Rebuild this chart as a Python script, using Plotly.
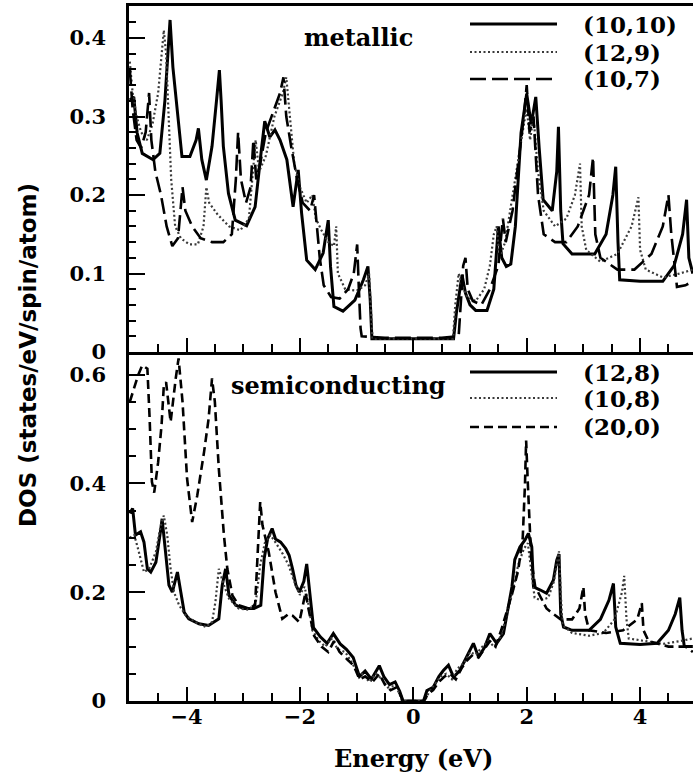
import plotly.graph_objects as go

# ---------------- data: metallic tubes (top panel) ----------------
e_1010 = [-5.00, -4.93, -4.87, -4.78, -4.59, -4.47, -4.38, -4.32, -4.29, -4.24, -4.17, -4.08, -3.94, -3.83,
          -3.79, -3.73, -3.65, -3.55, -3.47, -3.42, -3.39, -3.35, -3.26, -3.14, -2.94, -2.79, -2.68, -2.62,
          -2.53, -2.44, -2.35, -2.23, -2.12, -2.03, -1.97, -1.88, -1.73, -1.59, -1.50, -1.46, -1.40, -1.24,
          -1.03, -0.88, -0.80, -0.76, -0.73, -0.40, 0.00, 0.40, 0.71, 0.76, 0.82, 0.86, 0.92, 1.00, 1.10,
          1.30, 1.42, 1.50, 1.56, 1.64, 1.72, 1.80, 1.90, 2.00, 2.08, 2.16, 2.22, 2.29, 2.45, 2.53, 2.56,
          2.60, 2.64, 2.80, 3.20, 3.40, 3.52, 3.57, 3.61, 3.64, 4.00, 4.40, 4.60, 4.75, 4.82, 4.86, 4.93]
d_1010 = [0.321, 0.325, 0.279, 0.253, 0.245, 0.253, 0.321, 0.397, 0.423, 0.363, 0.312, 0.249, 0.249, 0.270,
          0.285, 0.245, 0.219, 0.262, 0.321, 0.359, 0.321, 0.262, 0.202, 0.168, 0.161, 0.185, 0.257, 0.294,
          0.274, 0.283, 0.270, 0.245, 0.185, 0.232, 0.177, 0.117, 0.105, 0.126, 0.168, 0.109, 0.058, 0.052,
          0.066, 0.092, 0.109, 0.066, 0.017, 0.017, 0.017, 0.017, 0.017, 0.050, 0.080, 0.098, 0.075, 0.060, 0.053,
          0.053, 0.080, 0.160, 0.120, 0.109, 0.112, 0.160, 0.279, 0.329, 0.290, 0.325, 0.260, 0.194, 0.180, 0.230, 0.287,
          0.180, 0.138, 0.125, 0.125, 0.150, 0.200, 0.236, 0.140, 0.092, 0.090, 0.090, 0.110, 0.150, 0.194, 0.120, 0.100]

e_129 = [-5.00, -4.95, -4.88, -4.80, -4.70, -4.60, -4.50, -4.44, -4.40, -4.36, -4.32, -4.27, -4.20, -4.10,
         -3.95, -3.80, -3.70, -3.65, -3.60, -3.45, -3.25, -3.05, -2.90, -2.82, -2.78, -2.72, -2.60, -2.45,
         -2.30, -2.24, -2.18, -2.10, -2.00, -1.88, -1.78, -1.72, -1.62, -1.50, -1.40, -1.36, -1.33, -1.20,
         -1.00, -0.85, -0.78, -0.74, -0.72, -0.30, 0.30, 0.70, 0.74, 0.80, 0.86, 0.95, 1.10, 1.25, 1.35,
         1.42, 1.47, 1.52, 1.62, 1.75, 1.85, 1.95, 2.00, 2.06, 2.12, 2.20, 2.30, 2.50, 2.70, 2.85, 2.94,
         2.97, 3.05, 3.30, 3.60, 3.85, 3.97, 4.00, 4.10, 4.40, 4.70, 4.93]
d_129 = [0.370, 0.330, 0.300, 0.280, 0.270, 0.290, 0.330, 0.380, 0.410, 0.380, 0.300, 0.220, 0.160, 0.145,
         0.137, 0.137, 0.160, 0.210, 0.190, 0.175, 0.160, 0.155, 0.170, 0.240, 0.270, 0.230, 0.250, 0.300,
         0.330, 0.350, 0.300, 0.240, 0.210, 0.190, 0.200, 0.170, 0.155, 0.140, 0.135, 0.160, 0.100, 0.080,
         0.078, 0.085, 0.100, 0.040, 0.017, 0.017, 0.017, 0.017, 0.060, 0.100, 0.085, 0.070, 0.065, 0.080, 0.110,
         0.150, 0.160, 0.120, 0.140, 0.200, 0.250, 0.290, 0.310, 0.270, 0.300, 0.230, 0.180, 0.160, 0.170, 0.200, 0.240,
         0.160, 0.130, 0.115, 0.125, 0.160, 0.197, 0.130, 0.105, 0.095, 0.100, 0.105]

e_107 = [-5.00, -4.95, -4.88, -4.80, -4.72, -4.66, -4.62, -4.55, -4.45, -4.35, -4.25, -4.15, -4.07, -4.02,
         -3.90, -3.75, -3.55, -3.35, -3.20, -3.13, -3.09, -3.04, -2.95, -2.87, -2.82, -2.77, -2.70, -2.60,
         -2.45, -2.35, -2.29, -2.24, -2.15, -2.05, -1.95, -1.82, -1.75, -1.70, -1.65, -1.58, -1.45, -1.30,
         -1.15, -1.05, -0.99, -0.96, -0.93, -0.91, -0.50, 0.00, 0.50, 0.80, 0.84, 0.88, 0.92, 0.96, 1.05,
         1.20, 1.35, 1.50, 1.58, 1.63, 1.75, 1.85, 1.95, 2.00, 2.05, 2.12, 2.20, 2.30, 2.50, 2.70, 2.90,
         3.10, 3.17, 3.21, 3.30, 3.60, 3.90, 4.20, 4.40, 4.50, 4.55, 4.65, 4.80, 4.93]
d_107 = [0.360, 0.310, 0.270, 0.260, 0.280, 0.330, 0.270, 0.230, 0.200, 0.160, 0.135, 0.145, 0.210, 0.180,
         0.160, 0.145, 0.140, 0.140, 0.150, 0.220, 0.280, 0.220, 0.190, 0.210, 0.270, 0.220, 0.240, 0.280,
         0.310, 0.330, 0.350, 0.300, 0.260, 0.220, 0.190, 0.180, 0.200, 0.160, 0.120, 0.085, 0.070, 0.068,
         0.080, 0.100, 0.137, 0.080, 0.030, 0.020, 0.018, 0.018, 0.018, 0.020, 0.060, 0.110, 0.120, 0.080, 0.065,
         0.060, 0.080, 0.110, 0.170, 0.140, 0.180, 0.240, 0.300, 0.340, 0.280, 0.300, 0.200, 0.150, 0.140, 0.140, 0.160,
         0.200, 0.248, 0.150, 0.120, 0.105, 0.105, 0.125, 0.160, 0.200, 0.150, 0.083, 0.085, 0.090]

# ---------------- data: semiconducting tubes (bottom panel) ----------------
e_128 = [-5.00, -4.95, -4.90, -4.81, -4.75, -4.69, -4.63, -4.54, -4.46, -4.43, -4.37, -4.31, -4.25, -4.16,
         -4.10, -4.04, -3.96, -3.78, -3.61, -3.43, -3.37, -3.31, -3.25, -3.13, -2.99, -2.81, -2.69, -2.63,
         -2.57, -2.49, -2.43, -2.34, -2.25, -2.19, -2.13, -2.07, -2.01, -1.93, -1.88, -1.82, -1.76, -1.64,
         -1.52, -1.41, -1.29, -1.18, -1.06, -0.95, -0.85, -0.74, -0.60, -0.52, -0.42, -0.32, -0.24, -0.18,
         0.18, 0.24, 0.35, 0.45, 0.53, 0.62, 0.71, 0.82, 0.94, 1.06, 1.15, 1.26, 1.35, 1.47, 1.59, 1.68,
         1.74, 1.79, 1.88, 1.97, 2.03, 2.09, 2.12, 2.24, 2.35, 2.47, 2.53, 2.57, 2.60, 2.65, 2.80, 3.10,
         3.30, 3.45, 3.53, 3.57, 3.65, 4.00, 4.30, 4.50, 4.62, 4.70, 4.74, 4.78, 4.93]
d_128 = [0.345, 0.354, 0.305, 0.311, 0.292, 0.243, 0.237, 0.255, 0.311, 0.335, 0.274, 0.213, 0.200, 0.237,
         0.200, 0.163, 0.151, 0.142, 0.139, 0.151, 0.213, 0.243, 0.194, 0.176, 0.170, 0.170, 0.176, 0.262,
         0.298, 0.317, 0.298, 0.292, 0.280, 0.268, 0.243, 0.213, 0.200, 0.220, 0.252, 0.197, 0.135, 0.118,
         0.106, 0.124, 0.105, 0.095, 0.080, 0.045, 0.055, 0.040, 0.065, 0.045, 0.030, 0.035, 0.018, 0.000,
         0.000, 0.019, 0.025, 0.045, 0.056, 0.066, 0.044, 0.056, 0.081, 0.106, 0.081, 0.099, 0.124, 0.106, 0.124, 0.173,
         0.210, 0.260, 0.283, 0.296, 0.308, 0.283, 0.210, 0.204, 0.198, 0.222, 0.259, 0.270, 0.160, 0.136, 0.130, 0.130,
         0.150, 0.185, 0.216, 0.136, 0.106, 0.104, 0.106, 0.130, 0.160, 0.190, 0.130, 0.100, 0.100]

e_108 = [-5.00, -4.92, -4.84, -4.75, -4.66, -4.54, -4.46, -4.40, -4.34, -4.28, -4.22, -4.13, -4.01, -3.84,
         -3.66, -3.55, -3.49, -3.43, -3.34, -3.25, -3.08, -2.90, -2.78, -2.70, -2.62, -2.52, -2.42, -2.30,
         -2.20, -2.10, -2.00, -1.92, -1.86, -1.78, -1.66, -1.55, -1.45, -1.33, -1.20, -1.08, -0.98, -0.88,
         -0.78, -0.66, -0.55, -0.45, -0.33, -0.25, -0.20, 0.20, 0.27, 0.38, 0.48, 0.58, 0.68, 0.78, 0.90,
         1.00, 1.10, 1.22, 1.32, 1.43, 1.55, 1.65, 1.75, 1.85, 1.95, 2.02, 2.08, 2.14, 2.25, 2.38, 2.48,
         2.54, 2.57, 2.60, 2.63, 2.80, 3.10, 3.35, 3.55, 3.68, 3.72, 3.76, 3.80, 4.10, 4.40, 4.70, 4.93]
d_108 = [0.300, 0.305, 0.274, 0.237, 0.243, 0.274, 0.320, 0.341, 0.305, 0.243, 0.200, 0.176, 0.157, 0.145,
         0.136, 0.145, 0.182, 0.243, 0.213, 0.188, 0.170, 0.168, 0.180, 0.250, 0.290, 0.305, 0.290, 0.270,
         0.250, 0.220, 0.195, 0.210, 0.185, 0.130, 0.110, 0.100, 0.115, 0.095, 0.090, 0.070, 0.050, 0.050,
         0.035, 0.050, 0.040, 0.025, 0.028, 0.015, 0.000, 0.000, 0.015, 0.030, 0.045, 0.050, 0.040, 0.060, 0.070,
         0.090, 0.085, 0.100, 0.110, 0.100, 0.120, 0.160, 0.200, 0.250, 0.280, 0.290, 0.240, 0.190, 0.185, 0.190, 0.220,
         0.260, 0.275, 0.200, 0.140, 0.125, 0.120, 0.125, 0.150, 0.200, 0.230, 0.150, 0.115, 0.110, 0.105, 0.110, 0.115]

e_200 = [-5.00, -4.95, -4.85, -4.78, -4.69, -4.65, -4.61, -4.57, -4.50, -4.44, -4.40, -4.36, -4.28, -4.19,
         -4.14, -4.07, -3.99, -3.90, -3.81, -3.69, -3.61, -3.55, -3.50, -3.43, -3.34, -3.28, -3.19, -3.08,
         -2.90, -2.79, -2.75, -2.70, -2.66, -2.55, -2.43, -2.31, -2.20, -2.13, -2.01, -1.90, -1.85, -1.75,
         -1.62, -1.50, -1.40, -1.30, -1.15, -1.05, -0.95, -0.85, -0.72, -0.60, -0.50, -0.40, -0.30, -0.22,
         -0.19, 0.19, 0.25, 0.35, 0.45, 0.55, 0.65, 0.75, 0.85, 0.95, 1.05, 1.15, 1.25, 1.35, 1.45, 1.55,
         1.65, 1.75, 1.85, 1.93, 1.97, 1.99, 2.02, 2.05, 2.08, 2.15, 2.25, 2.35, 2.47, 2.60, 2.80, 2.93,
         3.00, 3.03, 3.10, 3.40, 3.70, 3.95, 4.03, 4.06, 4.15, 4.50, 4.80, 4.93]
d_200 = [0.550, 0.568, 0.600, 0.617, 0.611, 0.519, 0.403, 0.383, 0.439, 0.507, 0.580, 0.586, 0.513, 0.593,
         0.630, 0.550, 0.409, 0.329, 0.378, 0.458, 0.519, 0.593, 0.550, 0.427, 0.305, 0.243, 0.194, 0.176,
         0.170, 0.176, 0.274, 0.366, 0.323, 0.274, 0.200, 0.151, 0.160, 0.157, 0.145, 0.200, 0.170, 0.120,
         0.100, 0.090, 0.110, 0.090, 0.075, 0.065, 0.040, 0.045, 0.035, 0.050, 0.030, 0.020, 0.025, 0.010,
         0.000, 0.000, 0.012, 0.020, 0.035, 0.045, 0.050, 0.040, 0.060, 0.075, 0.085, 0.080, 0.095, 0.110, 0.100, 0.130,
         0.165, 0.200, 0.240, 0.300, 0.400, 0.479, 0.400, 0.330, 0.260, 0.210, 0.190, 0.170, 0.160, 0.150, 0.150, 0.170,
         0.210, 0.160, 0.130, 0.125, 0.130, 0.150, 0.180, 0.130, 0.110, 0.100, 0.100, 0.090]

top_labels = ["(10,10)", "(12,9)", "(10,7)"]
bot_labels = ["(12,8)", "(10,8)", "(20,0)"]
x_tick_vals = [-4, -2, 0, 2, 4]
x_tick_text = ["\u22124", "\u22122", "0", "2", "4"]
top_y_ticks = [0, 0.1, 0.2, 0.3, 0.4]
bot_y_ticks = [0, 0.2, 0.4, 0.6]

# ---------------- styling ----------------
W, H = 693, 776
ML, MR, MT, MB = 129, 0, 6, 75
PW, PH = W - ML - MR, H - MT - MB


def pxx(x):
    return (x - ML) / PW


def pxy(y):
    return (H - MB - y) / PH


split = pxy(352)
solid = dict(color="black", width=3, dash="solid")
dotted = dict(color="#3a3a3a", width=2.2, dash="2px,2.5px")
dash_top = dict(color="black", width=2.6, dash="16px,6px")
dash_bot = dict(color="black", width=2.6, dash="9px,5px")
top_styles = [solid, dotted, dash_top]
bot_styles = [solid, dotted, dash_bot]

fig = go.Figure()
for (xs, ys), st in zip([(e_1010, d_1010), (e_129, d_129), (e_107, d_107)], top_styles):
    fig.add_trace(go.Scatter(x=xs, y=ys, mode="lines", line=st, xaxis="x", yaxis="y",
                             showlegend=False, hoverinfo="skip"))
for (xs, ys), st in zip([(e_128, d_128), (e_108, d_108), (e_200, d_200)], bot_styles):
    fig.add_trace(go.Scatter(x=xs, y=ys, mode="lines", line=st, xaxis="x2", yaxis="y2",
                             showlegend=False, hoverinfo="skip"))

tickfont = dict(family="DejaVu Serif", size=21, color="black", weight="bold")
xr = [(ML - 413.3) / 56.7, (W - 413.3) / 56.7]

common_x = dict(range=xr, showgrid=False, zeroline=False, showline=True, linecolor="black",
                linewidth=2.5, ticks="inside", tickvals=x_tick_vals, ticklen=14, tickwidth=2,
                tickcolor="black",
                minor=dict(dtick=0.5, tick0=0, ticks="inside", ticklen=8, tickwidth=2, tickcolor="black"))
common_y = dict(showgrid=False, zeroline=False, showline=True, linecolor="black", linewidth=2.5,
                ticks="inside", ticklen=16, tickwidth=2, tickcolor="black", tickfont=tickfont,
                ticklabelstandoff=16)

fig.update_layout(
    width=W, height=H, margin=dict(l=ML, r=MR, t=MT, b=MB),
    paper_bgcolor="white", plot_bgcolor="white",
    xaxis=dict(domain=[0, 1], anchor="y", mirror=True, showticklabels=False, **common_x),
    yaxis=dict(domain=[split, 1], anchor="x", range=[0, 0.4408], tickvals=top_y_ticks,
               ticktext=["0", "0.1", "0.2", "0.3", "0.4"],
               minor=dict(dtick=0.02, tick0=0, ticks="inside", ticklen=7, tickwidth=2, tickcolor="black"),
               **common_y),
    xaxis2=dict(domain=[0, 1], anchor="y2", ticktext=x_tick_text, tickfont=tickfont,
                ticklabelstandoff=-5, **common_x),
    yaxis2=dict(domain=[0, split], anchor="x2", range=[0, 0.6416], tickvals=bot_y_ticks,
                ticktext=["0", "0.2", "0.4", "0.6"],
                minor=dict(dtick=0.05, tick0=0, ticks="inside", ticklen=7, tickwidth=2, tickcolor="black"),
                **common_y),
)

annots = []
annots.append(dict(text="DOS (states/eV/spin/atom)", x=pxx(28), y=pxy(355), xref="paper", yref="paper",
                   textangle=-90, showarrow=False, xanchor="center", yanchor="middle",
                   font=dict(family="DejaVu Sans", size=23, color="black", weight="bold")))
annots.append(dict(text="Energy (eV)", x=pxx(413), y=pxy(758), xref="paper", yref="paper",
                   showarrow=False, xanchor="center", yanchor="middle",
                   font=dict(family="DejaVu Serif", size=24, color="black", weight="bold")))
annots.append(dict(text="metallic", x=pxx(358), y=pxy(38), xref="paper", yref="paper",
                   showarrow=False, xanchor="center", yanchor="middle",
                   font=dict(family="DejaVu Serif", size=24, color="black", weight="bold")))
annots.append(dict(text="semiconducting", x=pxx(338), y=pxy(385), xref="paper", yref="paper",
                   showarrow=False, xanchor="center", yanchor="middle",
                   font=dict(family="DejaVu Serif", size=24, color="black", weight="bold")))

shapes = []
leg_font = dict(family="DejaVu Serif", size=23, color="black", weight="bold")
for labels, sts, ys in [(top_labels, top_styles, [24, 52, 79]), (bot_labels, bot_styles, [372, 398, 427])]:
    for lab, st, yy in zip(labels, sts, ys):
        shapes.append(dict(type="line", xref="paper", yref="paper", x0=pxx(470), x1=pxx(557),
                           y0=pxy(yy), y1=pxy(yy), line=st))
        annots.append(dict(text=lab, x=pxx(581), y=pxy(yy), xref="paper", yref="paper",
                           showarrow=False, xanchor="left", yanchor="middle", font=leg_font))

fig.update_layout(annotations=annots, shapes=shapes)
fig.write_html("out.html", config={"displayModeBar": False},
               post_script="document.body.style.margin='0';")
